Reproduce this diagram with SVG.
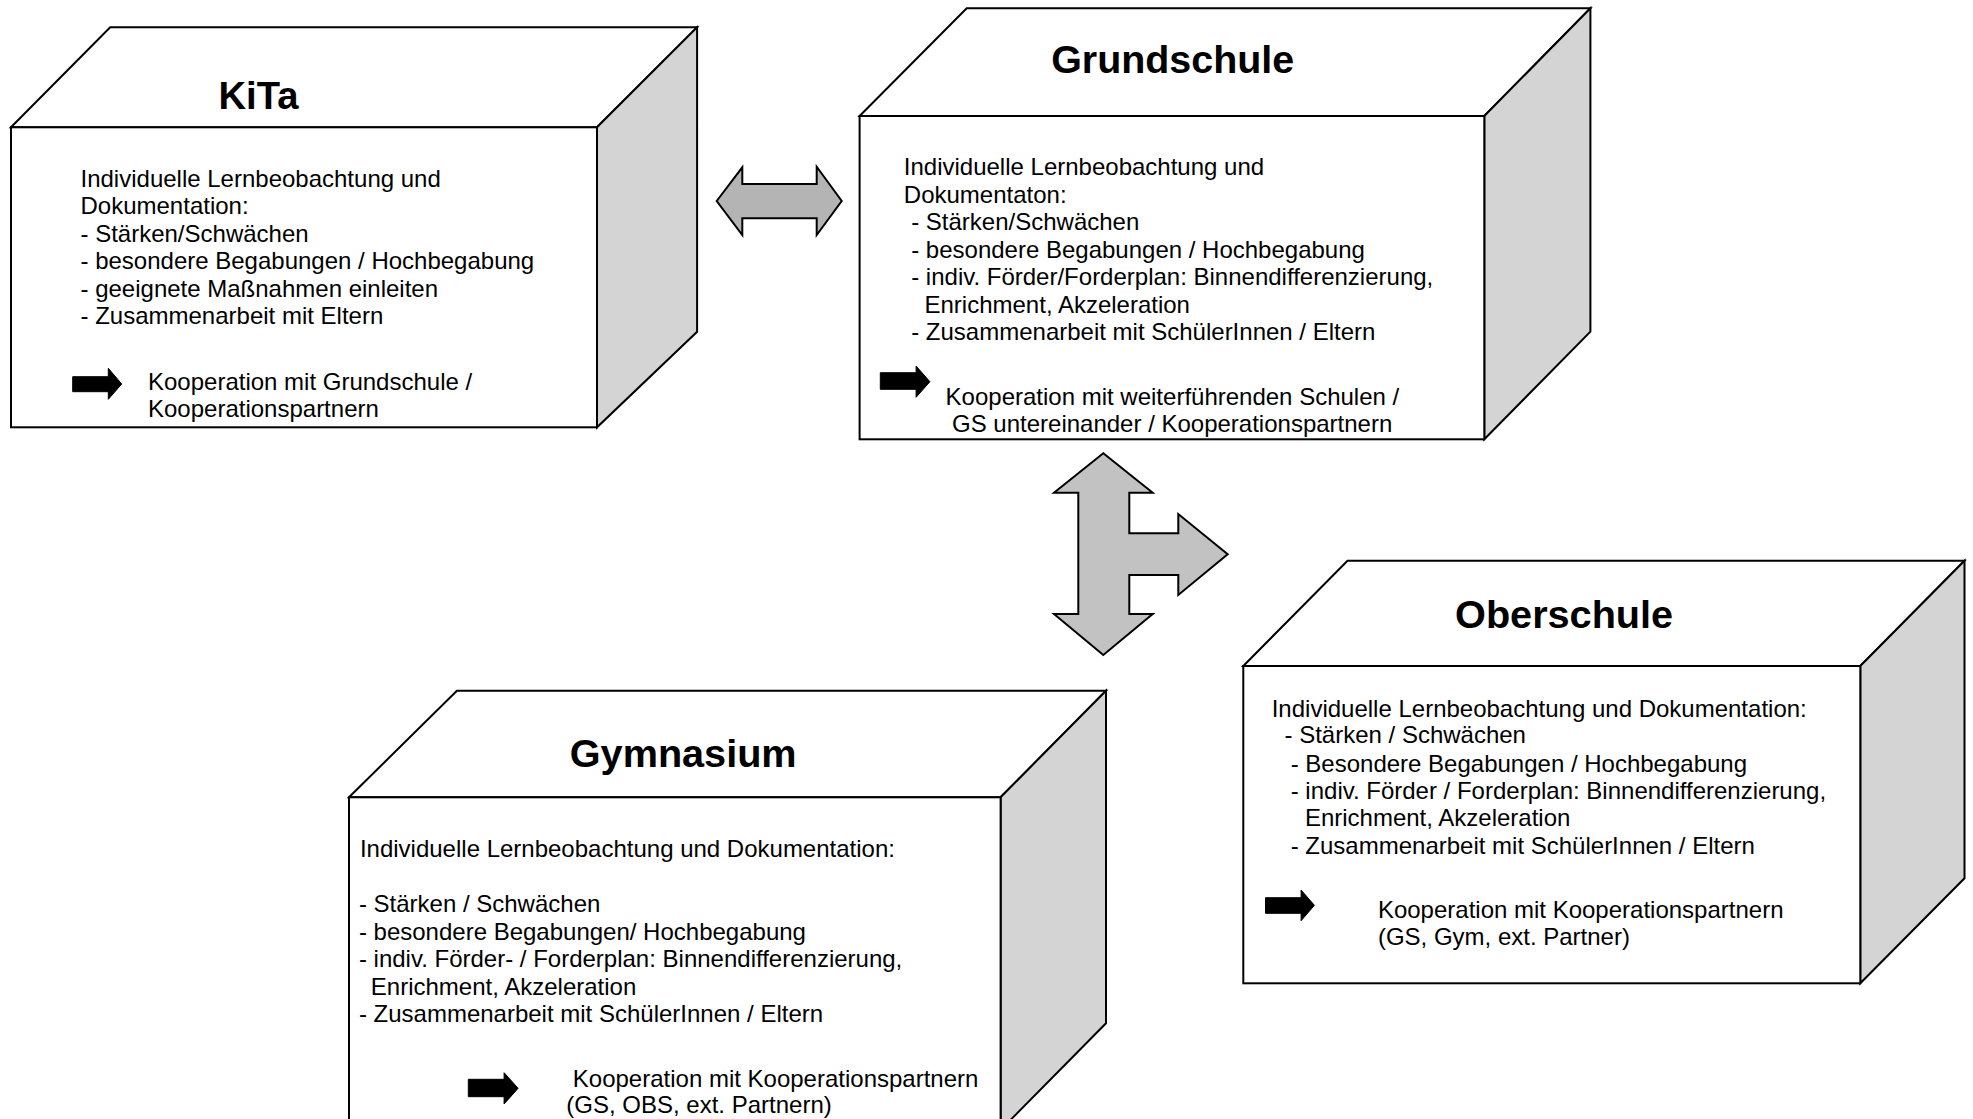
<svg xmlns="http://www.w3.org/2000/svg" width="1973" height="1119" viewBox="0 0 1973 1119">
<style>
.face{fill:#ffffff;stroke:#000;stroke-width:2;stroke-linejoin:miter}
.side{fill:#d4d4d4;stroke:#000;stroke-width:2}
.title{font-family:"Liberation Sans",Arial,sans-serif;font-weight:bold;font-size:38px;fill:#000}
.body{font-family:"Liberation Sans",Arial,sans-serif;font-size:24px;fill:#000;white-space:pre}
.blk{fill:#000;stroke:#000;stroke-width:1}
.conn{fill:#bdbdbd;stroke:#000;stroke-width:2;stroke-linejoin:miter}
</style>
<rect width="1973" height="1119" fill="#fff"/>
<g id="connectors">
<polygon class="conn" style="fill:#b4b4b4" points="716.7,201 742.3,167.3 742.3,184 816.7,184 816.7,166.7 841.7,201 816.7,235 816.7,218.3 742.3,218.3 742.3,235"/>
<polygon class="conn" style="fill:#c2c2c2" points="1103.3,453.3 1152.7,492.7 1129.3,492.7 1129.3,533.3 1178.3,533.3 1178.3,514 1227.7,554.3 1178.3,595 1178.3,575 1129.3,575 1129.3,614 1152.7,614 1103.3,655 1054,614 1078.3,614 1078.3,492.7 1054,492.7"/>
</g>
<g id="kita">
<polygon class="face" points="11,127.3 110.2,27.3 697.1,27.3 597,127.3"/>
<polygon class="side" points="597,127.3 697.1,27.3 697.1,331.7 597,427.3"/>
<rect class="face" x="11" y="127.3" width="586" height="300"/>
<text class="title" x="218.5" y="109" textLength="80" lengthAdjust="spacingAndGlyphs">KiTa</text>
<g class="body">
<text x="80.5" y="186.7">Individuelle Lernbeobachtung und</text>
<text x="80.5" y="214">Dokumentation:</text>
<text x="80.5" y="241.5">- Stärken/Schwächen</text>
<text x="80.5" y="269">- besondere Begabungen / Hochbegabung</text>
<text x="80.5" y="296.5">- geeignete Maßnahmen einleiten</text>
<text x="80.5" y="324">- Zusammenarbeit mit Eltern</text>
<text x="148" y="390">Kooperation mit Grundschule /</text>
<text x="148" y="416.7">Kooperationspartnern</text>
</g>
<polygon class="blk" points="72.7,376.7 108.3,376.7 108.3,368.3 121.7,384 108.3,399.3 108.3,391.7 72.7,391.7"/>
</g>
<g id="grundschule">
<polygon class="face" points="859.6,116 966.7,8.3 1590.4,8.3 1484.3,116"/>
<polygon class="side" points="1484.3,116 1590.4,8.3 1590.4,331.7 1484.3,439.3"/>
<rect class="face" x="859.6" y="116" width="624.7" height="323.3"/>
<text class="title" x="1051.2" y="72.7" textLength="243" lengthAdjust="spacingAndGlyphs">Grundschule</text>
<g class="body">
<text x="903.8" y="175">Individuelle Lernbeobachtung  und</text>
<text x="903.8" y="202.7">Dokumentaton:</text>
<text x="911.2" y="230">- Stärken/Schwächen</text>
<text x="911.2" y="257.5">- besondere Begabungen / Hochbegabung</text>
<text x="911.2" y="285">- indiv. Förder/Forderplan: Binnendifferenzierung,</text>
<text x="924.5" y="312.5">Enrichment, Akzeleration</text>
<text x="911.2" y="340">- Zusammenarbeit mit SchülerInnen / Eltern</text>
<text x="945.6" y="405">Kooperation mit weiterführenden Schulen /</text>
<text x="952" y="431.7">GS untereinander / Kooperationspartnern</text>
</g>
<polygon class="blk" points="880.3,372.7 916.1,372.7 916.1,366 929.9,381.7 916.1,397.3 916.1,389.3 880.3,389.3"/>
</g>
<g id="oberschule">
<polygon class="face" points="1243.3,666 1347.5,560.7 1964.5,560.7 1860.3,666"/>
<polygon class="side" points="1860.3,666 1964.5,560.7 1964.5,878.3 1860.3,983.3"/>
<rect class="face" x="1243.3" y="666" width="617" height="317.3"/>
<text class="title" x="1455.1" y="628.3" textLength="218" lengthAdjust="spacingAndGlyphs">Oberschule</text>
<g class="body">
<text x="1271.7" y="716.7">Individuelle Lernbeobachtung und Dokumentation:</text>
<text x="1284.5" y="743.3">- Stärken / Schwächen</text>
<text x="1290.7" y="771.5">- Besondere Begabungen / Hochbegabung</text>
<text x="1290.7" y="799">- indiv. Förder / Forderplan: Binnendifferenzierung,</text>
<text x="1304.9" y="826">Enrichment, Akzeleration</text>
<text x="1290.7" y="854">- Zusammenarbeit mit SchülerInnen / Eltern</text>
<text x="1377.9" y="918.3">Kooperation mit Kooperationspartnern</text>
<text x="1377.9" y="945">(GS, Gym, ext. Partner)</text>
</g>
<polygon class="blk" points="1265.5,897.7 1301.1,897.7 1301.1,890 1314.4,905.3 1301.1,920.7 1301.1,913.3 1265.5,913.3"/>
</g>
<g id="gymnasium">
<polygon class="face" points="349,797.3 456.9,690.7 1106,690.7 1000.6,797.3"/>
<polygon class="side" points="1000.6,797.3 1106,690.7 1106,1023.3 1000.6,1130"/>
<rect class="face" x="349" y="797.3" width="651.6" height="332.7"/>
<text class="title" x="569.8" y="766.7" textLength="226.8" lengthAdjust="spacingAndGlyphs">Gymnasium</text>
<g class="body">
<text x="359.9" y="856.7">Individuelle Lernbeobachtung und Dokumentation:</text>
<text x="358.9" y="911.7">- Stärken / Schwächen</text>
<text x="358.9" y="939.5">- besondere Begabungen/ Hochbegabung</text>
<text x="358.9" y="967">- indiv. Förder- / Forderplan: Binnendifferenzierung,</text>
<text x="370.8" y="994.5">Enrichment, Akzeleration</text>
<text x="358.9" y="1022">- Zusammenarbeit mit SchülerInnen / Eltern</text>
<text x="572.8" y="1086.7">Kooperation mit Kooperationspartnern</text>
<text x="566.3" y="1113.3">(GS, OBS, ext. Partnern)</text>
</g>
<polygon class="blk" points="468.3,1079.3 504.1,1079.3 504.1,1072.7 518.1,1088.3 504.1,1104 504.1,1096.7 468.3,1096.7"/>
</g>
</svg>
